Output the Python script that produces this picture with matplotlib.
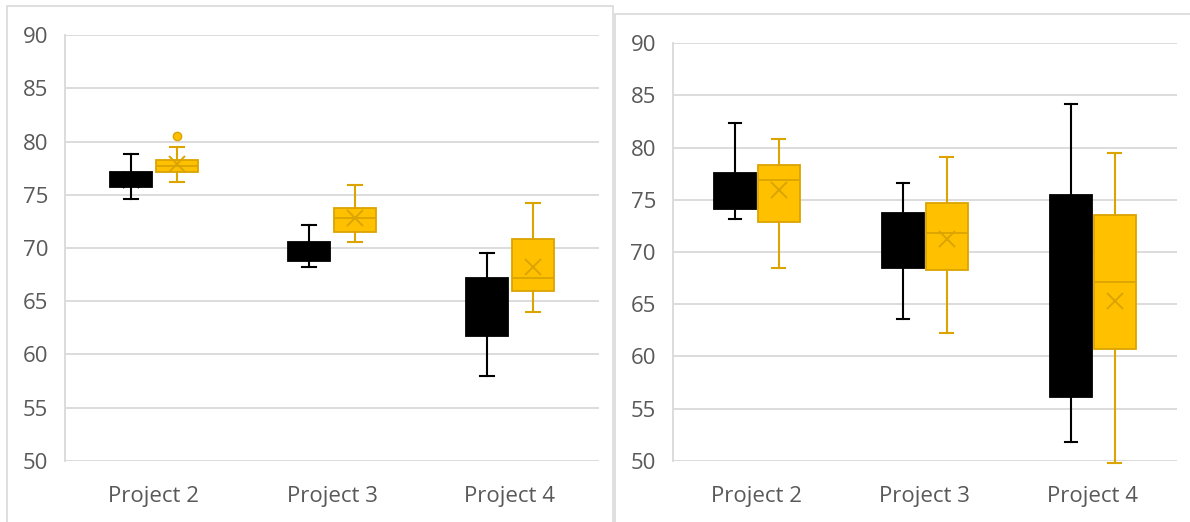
import matplotlib.pyplot as plt
from matplotlib.patches import Rectangle
import numpy as np

# ── data ──────────────────────────────────────────────────────────
categories = ["Project 2", "Project 3", "Project 4"]

left_black_whislo = [74.6, 68.2, 58.0]
left_black_q1 = [75.7, 68.8, 61.7]
left_black_med = [77.0, 69.8, 64.5]
left_black_q3 = [77.1, 70.6, 67.2]
left_black_whishi = [78.8, 72.2, 69.5]
left_black_mean = [76.4, 69.7, 64.3]

left_gold_whislo = [76.2, 70.6, 64.0]
left_gold_q1 = [77.1, 71.5, 66.0]
left_gold_med = [77.7, 72.8, 67.2]
left_gold_q3 = [78.3, 73.8, 70.8]
left_gold_whishi = [79.5, 75.9, 74.2]
left_gold_mean = [77.9, 72.8, 68.2]
left_gold_fliers = [[80.5], [], []]

right_black_whislo = [73.2, 63.6, 51.8]
right_black_q1 = [74.1, 68.5, 56.1]
right_black_med = [75.5, 71.0, 65.0]
right_black_q3 = [77.6, 73.7, 75.5]
right_black_whishi = [82.4, 76.6, 84.2]
right_black_mean = [76.0, 70.8, 66.0]

right_gold_whislo = [68.5, 62.2, 49.8]
right_gold_q1 = [72.9, 68.3, 60.7]
right_gold_med = [76.9, 71.8, 67.1]
right_gold_q3 = [78.3, 74.7, 73.5]
right_gold_whishi = [80.8, 79.1, 79.5]
right_gold_mean = [75.9, 71.2, 65.3]

yticks = [50, 55, 60, 65, 70, 75, 80, 85, 90]

BLACK = "#000000"
GOLD = "#FFC000"
GOLD_DARK = "#DBA400"
GRID = "#D9D9D9"
TEXT = "#595959"
FONT = "Open Sans"

W, H = 1190, 522
fig = plt.figure(figsize=(W / 100, H / 100), dpi=100, facecolor="white")


def make_stats(lo, q1, med, q3, hi, mean, fliers=None):
    out = []
    for i in range(len(lo)):
        out.append(dict(whislo=lo[i], q1=q1[i], med=med[i], q3=q3[i],
                        whishi=hi[i], mean=mean[i],
                        fliers=(fliers[i] if fliers else [])))
    return out


def draw_panel(rect, black, gold, width):
    ax = fig.add_axes(rect)
    x = np.arange(len(categories))
    off = 0.13
    for stats, pos, face, edge in [(black, x - off, BLACK, BLACK),
                                   (gold, x + off, GOLD, GOLD_DARK)]:
        arts = ax.bxp(stats, positions=pos, widths=width, capwidths=0.075,
                      patch_artist=True, showmeans=True, showfliers=True,
                      boxprops=dict(facecolor=face, edgecolor=edge, linewidth=1.3),
                      medianprops=dict(color=edge, linewidth=1.3),
                      whiskerprops=dict(color=edge, linewidth=1.5),
                      capprops=dict(color=edge, linewidth=1.5),
                      meanprops=dict(marker="x", markeredgecolor=edge,
                                     markersize=11, markeredgewidth=1.4),
                      flierprops=dict(marker="o", markerfacecolor=GOLD,
                                      markeredgecolor=GOLD_DARK, markersize=6))
        for a in arts["whiskers"] + arts["caps"]:
            a.set_clip_on(False)
    ax.set_xlim(-0.5, 2.5)
    ax.set_ylim(50, 90)
    ax.set_yticks(yticks)
    ax.set_xticks(x)
    ax.set_xticklabels(categories)
    ax.grid(axis="y", color=GRID, linewidth=1.3)
    ax.set_axisbelow(True)
    for s in ["top", "right", "bottom"]:
        ax.spines[s].set_visible(False)
    ax.spines["left"].set_color(GRID)
    ax.spines["left"].set_linewidth(1.3)
    ax.tick_params(length=0, colors=TEXT, labelsize=16)
    ax.tick_params(axis="y", pad=12)
    ax.tick_params(axis="x", pad=18)
    for t in ax.get_xticklabels() + ax.get_yticklabels():
        t.set_fontfamily(FONT)
    return ax


# panel frames
fig.patches.append(Rectangle((6.5 / W, -0.1), (612.5 - 6.5) / W, 1.1 - 6 / H,
                             transform=fig.transFigure, fill=False,
                             edgecolor=GRID, linewidth=1.2))
fig.patches.append(Rectangle((614.5 / W, -0.1), 1.0, 1.1 - 13.5 / H,
                             transform=fig.transFigure, fill=False,
                             edgecolor=GRID, linewidth=1.2))

draw_panel([65 / W, (H - 460.7) / H, 534 / W, 425.4 / H],
           make_stats(left_black_whislo, left_black_q1, left_black_med,
                      left_black_q3, left_black_whishi, left_black_mean),
           make_stats(left_gold_whislo, left_gold_q1, left_gold_med,
                      left_gold_q3, left_gold_whishi, left_gold_mean,
                      left_gold_fliers),
           0.235)

draw_panel([672.6 / W, (H - 460.7) / H, 504.4 / W, 417.4 / H],
           make_stats(right_black_whislo, right_black_q1, right_black_med,
                      right_black_q3, right_black_whishi, right_black_mean),
           make_stats(right_gold_whislo, right_gold_q1, right_gold_med,
                      right_gold_q3, right_gold_whishi, right_gold_mean),
           0.25)

fig.savefig("out.png", dpi=100, facecolor="white")
